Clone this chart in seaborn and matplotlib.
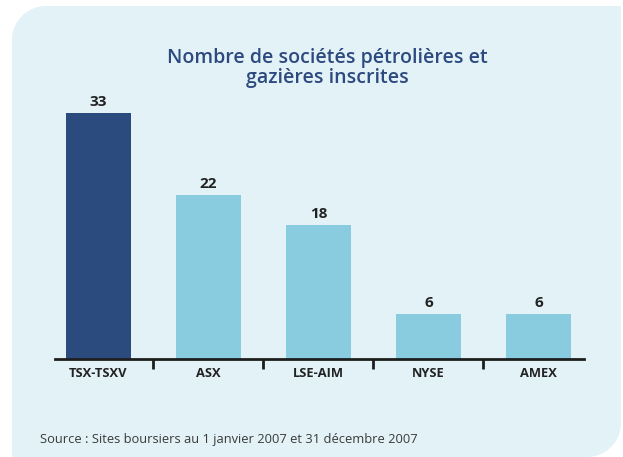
import numpy as np
import pandas as pd
import seaborn as sns
import matplotlib.pyplot as plt
from matplotlib.path import Path
from matplotlib.patches import PathPatch

# donnees
bourses = ["TSX-TSXV", "ASX", "LSE-AIM", "NYSE", "AMEX"]
nb_societes = [33, 22, 18, 6, 6]
couleurs = ["#2b4a7e", "#89cce0", "#89cce0", "#89cce0", "#89cce0"]

titre = "Nombre de sociétés pétrolières et\ngazières inscrites"
source = "Source : Sites boursiers au 1 janvier 2007 et 31 décembre 2007"

fond = "#e2f2f6"
bleu_titre = "#2d4a80"

sns.set_theme(style="white")
plt.rcParams["font.family"] = ["Open Sans", "DejaVu Sans"]

W, H = 623, 457
fig = plt.figure(figsize=(W / 100, H / 100), dpi=100)
fig.patch.set_facecolor("white")

# panneau de fond : coins haut-gauche et bas-droit arrondis
x0, x1, y0, y1, r = 12, 621, 0, 451, 34  # pixels, y depuis le bas
t = np.linspace(0, np.pi / 2, 20)
pts = [(x0, y0), (x1 - r, y0)]
pts += [(x1 - r + r * np.sin(a), y0 + r - r * np.cos(a)) for a in t]
pts += [(x1, y1), (x0 + r, y1)]
pts += [(x0 + r - r * np.sin(a), y1 - r + r * np.cos(a)) for a in t]
pts += [(x0, y0)]
pts = [(px / W, py / H) for px, py in pts]
panel = PathPatch(Path(pts), transform=fig.transFigure, facecolor=fond,
                  edgecolor="none", zorder=-10)
fig.patches.append(panel)

ax = fig.add_axes([55 / W, (H - 359) / H, (584 - 55) / W, (359 - 91) / H])
ax.set_facecolor("none")
ax.set_zorder(5)

df = pd.DataFrame({"bourse": bourses, "n": nb_societes})
sns.barplot(data=df, x="bourse", y="n", hue="bourse", palette=couleurs,
            width=0.59, legend=False, ax=ax, saturation=1, linewidth=0)

for c in ax.containers:
    ax.bar_label(c, padding=3, fontsize=11, fontweight="bold", color="#222222")

ax.set_xlim(-0.395, 4.414)
ax.set_ylim(0, 36)
ax.set_xlabel("")
ax.set_ylabel("")
ax.set_yticks([])
for s in ["top", "right", "left"]:
    ax.spines[s].set_visible(False)
ax.spines["bottom"].set_linewidth(2)
ax.spines["bottom"].set_color("#1e1e1e")

ax.set_xticks(range(len(bourses)))
ax.set_xticklabels(bourses, fontsize=9.3, fontweight="bold", color="#222222")
ax.tick_params(axis="x", which="major", length=0, pad=6)
ax.set_xticks([0.5, 1.5, 2.5, 3.5], minor=True)
ax.tick_params(axis="x", which="minor", length=7, width=2, color="#1e1e1e",
               direction="out", bottom=True)

fig.text(327 / W, 1 - 68 / H, titre, ha="center", va="center", fontsize=14,
         fontweight="semibold", color=bleu_titre, linespacing=1.0)
fig.text(40 / W, 1 - 440 / H, source, ha="left", va="center", fontsize=9.3,
         color="#3a3a3a")

fig.savefig("out.png", dpi=100, facecolor=fig.get_facecolor())
